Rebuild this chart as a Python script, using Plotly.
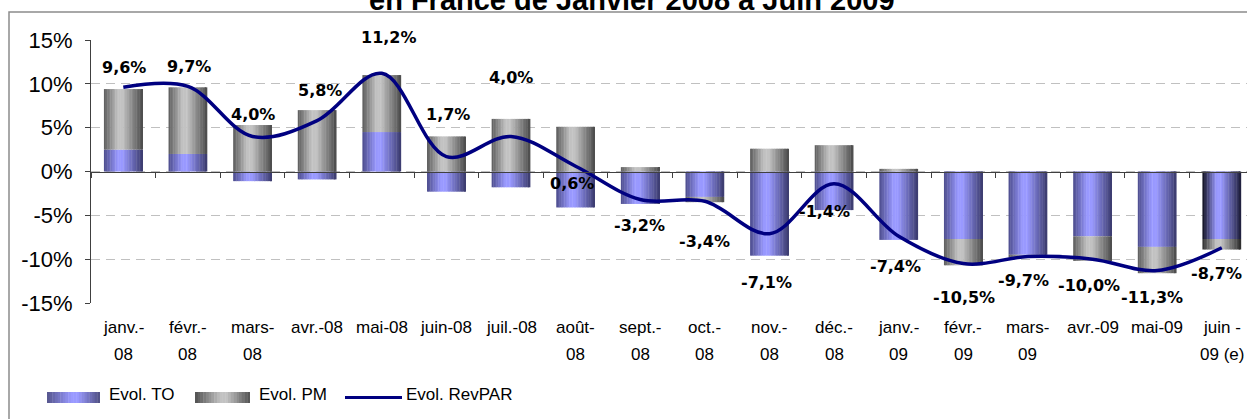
import plotly.graph_objects as go

# ---------------- data ----------------
categories = ["janv.-08", "févr.-08", "mars-08", "avr.-08", "mai-08", "juin-08",
              "juil.-08", "août-08", "sept.-08", "oct.-08", "nov.-08", "déc.-08",
              "janv.-09", "févr.-09", "mars-09", "avr.-09", "mai-09", "juin-09 (e)"]
tick_line1 = ["janv.-", "févr.-", "mars-", "avr.-08", "mai-08", "juin-08", "juil.-08",
              "août-", "sept.-", "oct.-", "nov.-", "déc.-", "janv.-", "févr.-", "mars-",
              "avr.-09", "mai-09", "juin -"]
tick_line2 = ["08", "08", "08", "", "", "", "", "08", "08", "08", "08", "08",
              "09", "09", "09", "", "", "09 (e)"]
evol_to = [2.5, 2.0, -1.1, -0.9, 4.5, -2.3, -1.8, -4.1, -3.7, -2.9, -9.6, -4.4,
           -7.8, -7.7, -9.5, -7.4, -8.6, -7.7]
evol_pm = [6.9, 7.6, 5.3, 7.0, 6.5, 4.0, 6.0, 5.1, 0.5, -0.6, 2.6, 3.0,
           0.3, -3.0, -0.3, -2.8, -3.0, -1.2]
evol_revpar = [9.6, 9.7, 4.0, 5.8, 11.2, 1.7, 4.0, 0.6, -3.2, -3.4, -7.1, -1.4,
               -7.4, -10.5, -9.7, -10.0, -11.3, -8.7]
y_tick_vals = [-15, -10, -5, 0, 5, 10, 15]
y_tick_text = ["-15%", "-10%", "-5%", "0%", "5%", "10%", "15%"]
legend_names = ["Evol. TO", "Evol. PM", "Evol. RevPAR"]
title_text = "en France de Janvier 2008 à Juin 2009"

# ---------------- style ----------------
W, H = 1247, 419
ML, MR, MT, MB = 91, 0, 40, 116
PW, PH = W - ML - MR, H - MT - MB

label_dy = [20, 20, 22, 30, 36, 42, 59, -17, -26, -40, -49, -28, -30, -34, -24, -26, -27, -26]
label_dx = [1, 1, 0, 3, 7, 2, 0, -4, -1, 0, -3, -10, -3, 1, -4, -4, -5, -5]

TO_CENTER = "#9999ff"
PM_CENTER = "#c2c2c2"
to_left = ["#4d4d8c"] * 17 + ["#10101f"]
to_right = ["#3a3a6c"] * 17 + ["#1c1c38"]
pm_left = ["#5c5c5c"] * 17 + ["#2e2e2e"]
pm_right = ["#4a4a4a"] * 17 + ["#2a2a2a"]

BAR_W = 0.6
NSTRIP = 24


def hex2rgb(h):
    h = h.lstrip("#")
    return [int(h[i:i + 2], 16) for i in (0, 2, 4)]


def mix(c1, c2, s):
    a, b = hex2rgb(c1), hex2rgb(c2)
    return "rgb(%d,%d,%d)" % tuple(round(a[i] + (b[i] - a[i]) * s) for i in range(3))


def profile(t, t0=0.42, flat=0.06):
    if abs(t - t0) <= flat:
        return 1.0
    if t < t0:
        return max(0.0, t / (t0 - flat))
    return max(0.0, (1 - t) / (1 - t0 - flat))


def px_x(px):
    return (px - ML) / PW


def px_y(py):
    return (MT + PH - py) / PH


fig = go.Figure()

# stacked bars (Excel style: positives stack on positives, negatives on negatives)
pm_base = [t if (t >= 0) == (p >= 0) else 0 for t, p in zip(evol_to, evol_pm)]

for series, base, lefts, rights, center in [
    (evol_to, [0] * len(evol_to), to_left, to_right, TO_CENTER),
    (evol_pm, pm_base, pm_left, pm_right, PM_CENTER),
]:
    for k in range(NSTRIP):
        t = (k + 0.5) / NSTRIP
        s = profile(t)
        cols = [mix(lefts[i] if t < 0.42 else rights[i], center, s) for i in range(len(series))]
        fig.add_trace(go.Bar(
            x=categories, y=series, base=base,
            offset=-BAR_W / 2 + k * BAR_W / NSTRIP,
            width=BAR_W / NSTRIP + (0.006 if k < NSTRIP - 1 else 0),
            marker=dict(color=cols, line=dict(width=0)),
            showlegend=False, hoverinfo="skip",
        ))

fig.add_trace(go.Scatter(
    x=categories, y=evol_revpar, mode="lines",
    line=dict(color="#000080", width=3.5, shape="spline", smoothing=1.0),
    showlegend=False, name=legend_names[2],
))

annotations = []
for i, (c, v) in enumerate(zip(categories, evol_revpar)):
    annotations.append(dict(
        x=c, y=v, xref="x", yref="y", showarrow=False,
        xanchor="center", yanchor="middle",
        text=("%.1f" % v).replace(".", ",") + "%",
        xshift=label_dx[i], yshift=label_dy[i],
        font=dict(family="DejaVu Sans", size=16, color="black", weight="bold"),
    ))

for c, l1, l2 in zip(categories, tick_line1, tick_line2):
    annotations.append(dict(x=c, y=px_y(327), xref="x", yref="paper", showarrow=False,
                            xanchor="center", yanchor="middle",
                            text=l1, font=dict(size=17, color="black")))
    if l2:
        annotations.append(dict(x=c, y=px_y(354), xref="x", yref="paper", showarrow=False,
                                xanchor="center", yanchor="middle",
                                text=l2, font=dict(size=17, color="black")))

# title (partially outside the page, as in the reference)
annotations.append(dict(x=px_x(632), y=1, xref="paper", yref="paper",
                        xanchor="center", yanchor="middle",
                        yshift=40, showarrow=False, text=title_text,
                        font=dict(size=29, color="black", weight="bold")))

# legend texts
for name, xpx in zip(legend_names, [107, 257, 404]):
    annotations.append(dict(x=px_x(xpx), y=px_y(394), xref="paper", yref="paper",
                            xanchor="left", yanchor="middle", showarrow=False,
                            text=name, font=dict(size=17, color="black")))

shapes = []
# outer frame
shapes.append(dict(type="rect", xref="paper", yref="paper",
                   x0=px_x(9), x1=px_x(1260), y0=px_y(440), y1=px_y(12),
                   line=dict(color="#8c8c8c", width=1.5), fillcolor="rgba(0,0,0,0)"))

# legend swatches
for (x0, x1), left, right, center in [((47, 100), "#55558c", "#4d4d80", TO_CENTER),
                                      ((195, 250), "#505050", "#505050", PM_CENTER)]:
    n = 20
    for k in range(n):
        t = (k + 0.5) / n
        s = profile(t, t0=0.52, flat=0.06)
        a = x0 + (x1 - x0) * k / n
        b = x0 + (x1 - x0) * (k + 1) / n + (0.4 if k < n - 1 else 0)
        shapes.append(dict(type="rect", xref="paper", yref="paper",
                           x0=px_x(a), x1=px_x(b), y0=px_y(403), y1=px_y(392),
                           line=dict(width=0), fillcolor=mix(left if t < 0.52 else right, center, s)))
shapes.append(dict(type="line", xref="paper", yref="paper",
                   x0=px_x(345), x1=px_x(402), y0=px_y(397.5), y1=px_y(397.5),
                   line=dict(color="#000080", width=3)))

fig.update_layout(
    width=W, height=H,
    margin=dict(l=ML, r=MR, t=MT, b=MB, pad=0),
    paper_bgcolor="white", plot_bgcolor="white",
    font=dict(family="Liberation Sans, Arial, sans-serif", color="black"),
    barmode="overlay", showlegend=False,
    annotations=annotations, shapes=shapes,
    xaxis=dict(type="category", categoryorder="array", categoryarray=categories,
               range=[-0.5, 17.39], anchor="free", position=0.5,
               showline=True, linecolor="#404040", linewidth=1,
               ticks="outside", tickson="boundaries", ticklen=5, tickcolor="#404040",
               showticklabels=False, showgrid=False, zeroline=False),
    yaxis=dict(range=[-15, 15], tickvals=y_tick_vals, ticktext=y_tick_text,
               showline=True, linecolor="#404040", linewidth=1,
               ticks="outside", ticklen=5, tickcolor="#404040",
               ticklabelstandoff=8,
               tickfont=dict(size=22, color="black"),
               showgrid=True, gridcolor="#c0c0c0", gridwidth=1, griddash="9px,6px",
               zeroline=False),
)

fig.write_html(
    "out.html",
    config={"displayModeBar": False},
    post_script="document.body.style.margin='0';document.body.style.padding='0';"
                "document.body.style.overflow='hidden';",
)
